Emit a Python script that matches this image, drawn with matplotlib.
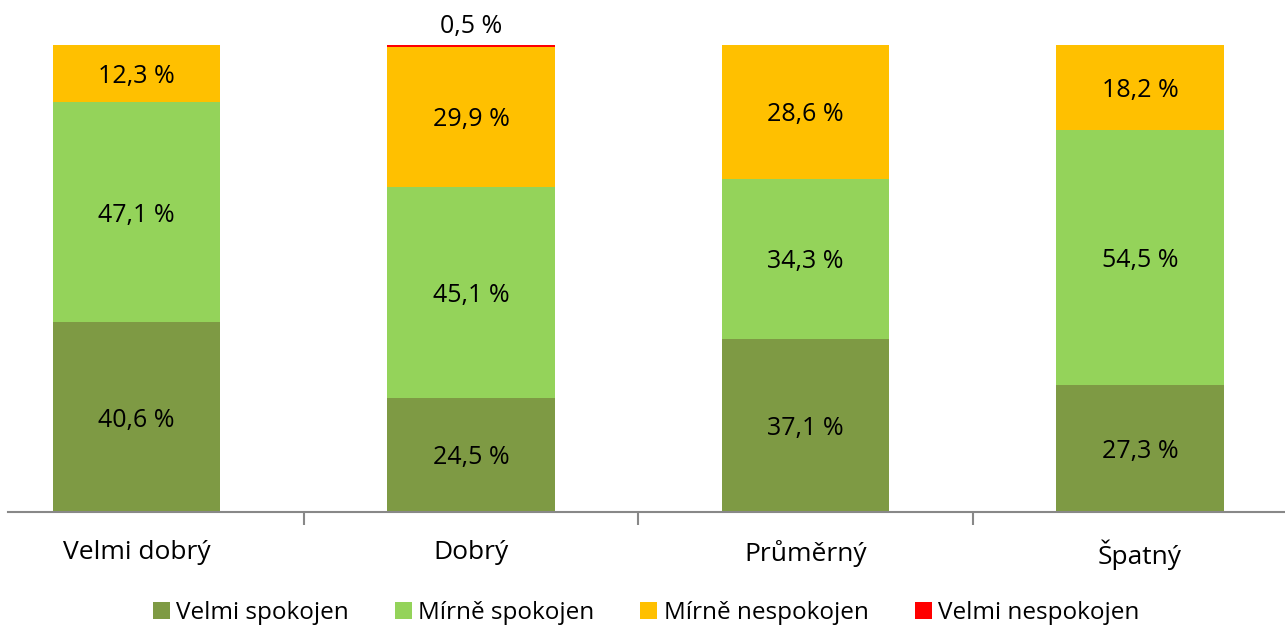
import matplotlib
matplotlib.use("Agg")
import matplotlib.pyplot as plt
import numpy as np

plt.rcParams['font.family'] = ['Open Sans', 'DejaVu Sans']

categories = ["Velmi dobrý", "Dobrý", "Průměrný", "Špatný"]
series_names = ["Velmi spokojen", "Mírně spokojen", "Mírně nespokojen", "Velmi nespokojen"]
velmi_spokojen = [40.6, 24.5, 37.1, 27.3]
mirne_spokojen = [47.1, 45.1, 34.3, 54.5]
mirne_nespokojen = [12.3, 29.9, 28.6, 18.2]
velmi_nespokojen = [0.0, 0.5, 0.0, 0.0]
colors = ["#7e9a44", "#94d35a", "#ffc000", "#ff0000"]

series = [velmi_spokojen, mirne_spokojen, mirne_nespokojen, velmi_nespokojen]

W, H = 1285, 628
fig = plt.figure(figsize=(W / 100, H / 100), dpi=100)
slot = 334.5
x_left_px = 8
x0_px = 136.5
xmin = -(x0_px - x_left_px) / slot
width_units = 4.2
ax = fig.add_axes([x_left_px / W, (H - 512) / H, width_units * slot / W, 467 / H])
ax.set_xlim(xmin, xmin + width_units)
ax.set_ylim(0, 100)

x = np.arange(len(categories))
bottom = np.zeros(len(categories))
handles = []
for name, vals, col in zip(series_names, series, colors):
    vals = np.array(vals)
    b = ax.bar(x, vals, 0.5, bottom=bottom, color=col, label=name, clip_on=False)
    handles.append(b)
    for xi, v, bt in zip(x, vals, bottom):
        if v <= 0:
            continue
        s = f"{v:.1f}".replace(".", ",") + " %"
        if v < 3:
            ax.text(xi, bt + v + 1.3, s, ha="center", va="bottom", fontsize=18, color="#000000")
        else:
            ax.text(xi, bt + v / 2 - 0.6, s, ha="center", va="center", fontsize=18, color="#000000")
    bottom += vals

for sp in ["top", "right", "left"]:
    ax.spines[sp].set_visible(False)
ax.spines["bottom"].set_color("#888888")
ax.spines["bottom"].set_linewidth(1.5)
ax.set_yticks([])
ax.set_xticks(x)
ax.set_xticklabels(categories, fontsize=19, color="#000000")
ax.tick_params(axis="x", which="major", length=0, pad=20)
ax.set_xticks([0.5, 1.5, 2.5, 3.5], minor=True)
ax.tick_params(axis="x", which="minor", length=9, width=1.5, color="#888888", direction="out")

fig.legend(handles=handles, labels=series_names, loc="center", bbox_to_anchor=(646 / W, 1 - 613 / H),
           ncol=4, frameon=False, fontsize=17.5, handlelength=0.7, handleheight=0.7,
           handletextpad=0.25, columnspacing=1.9)

fig.savefig("out.png", dpi=100)
